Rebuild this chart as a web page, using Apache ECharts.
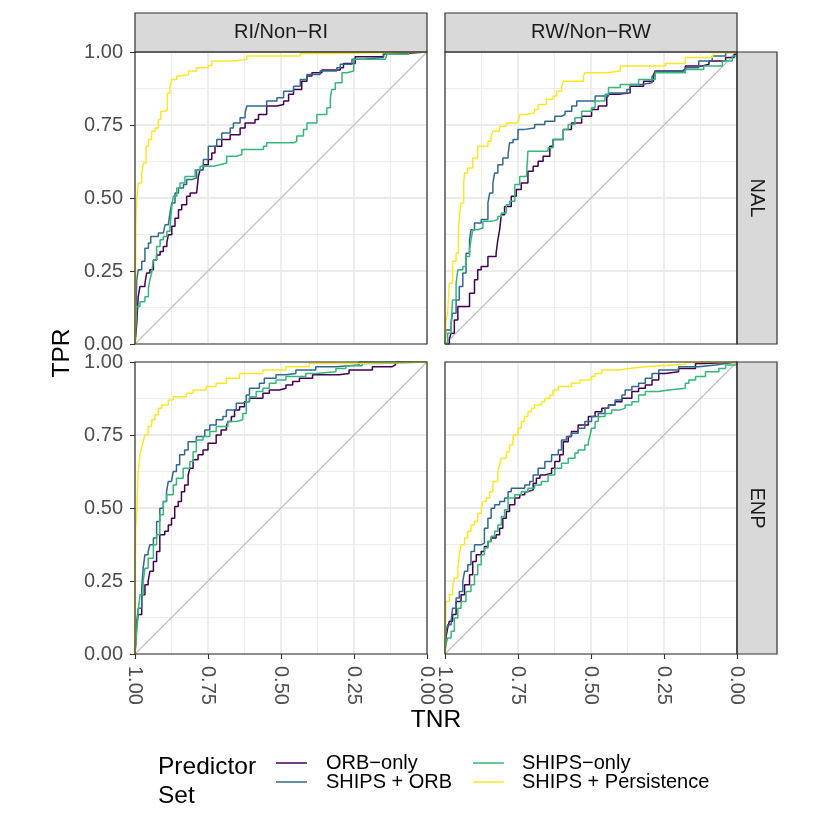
<!DOCTYPE html>
<html><head><meta charset="utf-8">
<script src="https://cdn.jsdelivr.net/npm/echarts@6/dist/echarts.min.js"></script>
<style>html,body{margin:0;padding:0;background:#fff}#c{width:830px;height:830px}</style>
</head><body><div id="c"></div>
<script>
// ---------- data ----------
const rowFacets = ['NAL', 'ENP'];
const colFacets = ['RI/Non\u2212RI', 'RW/Non\u2212RW'];
const predictorSets = ['ORB\u2212only', 'SHIPS + ORB', 'SHIPS\u2212only', 'SHIPS + Persistence'];
const setColors = ['#440154', '#31688E', '#35B779', '#FDE725'];
const tickValues = [0, 0.25, 0.5, 0.75, 1];
const tickLabels = ['0.00', '0.25', '0.50', '0.75', '1.00'];
const diagonal = [[1, 0], [0, 1]];

// [TNR, TPR] — NAL, RI/Non-RI
const nalRiOrb = [[1,0],[0.994,0.071],[0.989,0.162],[0.983,0.197],[0.966,0.208],[0.96,0.243],[0.949,0.254],[0.937,0.288],[0.926,0.305],[0.914,0.317],[0.903,0.334],[0.891,0.346],[0.886,0.374],[0.874,0.403],[0.863,0.431],[0.851,0.46],[0.84,0.477],[0.823,0.506],[0.811,0.517],[0.789,0.523],[0.783,0.574],[0.777,0.597],[0.766,0.614],[0.749,0.632],[0.737,0.654],[0.726,0.677],[0.703,0.7],[0.674,0.717],[0.64,0.74],[0.623,0.757],[0.589,0.769],[0.577,0.786],[0.549,0.815],[0.514,0.82],[0.491,0.832],[0.474,0.855],[0.457,0.872],[0.429,0.9],[0.411,0.918],[0.394,0.929],[0.36,0.938],[0.297,0.946],[0.286,0.961],[0.246,0.984],[0.149,0.995],[0.08,1],[0,1]];
const nalRiShipsOrb = [[1,0],[0.994,0.22],[0.989,0.254],[0.977,0.283],[0.966,0.328],[0.954,0.346],[0.946,0.368],[0.92,0.38],[0.903,0.386],[0.897,0.408],[0.886,0.414],[0.88,0.449],[0.874,0.483],[0.863,0.517],[0.851,0.534],[0.834,0.546],[0.823,0.563],[0.806,0.569],[0.789,0.597],[0.766,0.632],[0.749,0.677],[0.72,0.7],[0.703,0.723],[0.674,0.74],[0.663,0.757],[0.64,0.775],[0.623,0.792],[0.617,0.815],[0.549,0.832],[0.514,0.843],[0.491,0.866],[0.457,0.883],[0.434,0.906],[0.411,0.923],[0.366,0.935],[0.309,0.946],[0.297,0.958],[0.257,0.975],[0.217,0.981],[0.149,0.992],[0.069,1],[0,1]];
const nalRiShips = [[1,0],[0.994,0.128],[0.983,0.145],[0.966,0.162],[0.954,0.191],[0.949,0.22],[0.943,0.243],[0.937,0.288],[0.926,0.334],[0.914,0.357],[0.903,0.368],[0.891,0.386],[0.88,0.403],[0.874,0.471],[0.869,0.506],[0.857,0.534],[0.846,0.551],[0.829,0.574],[0.794,0.597],[0.777,0.609],[0.731,0.614],[0.709,0.62],[0.686,0.643],[0.651,0.649],[0.634,0.666],[0.56,0.677],[0.549,0.689],[0.457,0.694],[0.446,0.712],[0.423,0.735],[0.411,0.757],[0.377,0.786],[0.343,0.809],[0.331,0.843],[0.326,0.872],[0.314,0.895],[0.291,0.929],[0.274,0.935],[0.251,0.975],[0.143,0.981],[0.137,0.992],[0.063,1],[0,1]];
const nalRiPersist = [[1,0],[0.997,0.42],[0.994,0.494],[0.989,0.551],[0.977,0.586],[0.971,0.62],[0.962,0.677],[0.954,0.7],[0.943,0.729],[0.931,0.74],[0.92,0.769],[0.912,0.797],[0.897,0.803],[0.889,0.86],[0.88,0.883],[0.874,0.906],[0.857,0.918],[0.84,0.923],[0.817,0.935],[0.789,0.946],[0.749,0.954],[0.737,0.969],[0.663,0.975],[0.617,0.986],[0.434,0.995],[0.309,1],[0,1]];

// NAL, RW/Non-RW
const nalRwOrb = [[1,0],[0.985,0.019],[0.979,0.037],[0.968,0.082],[0.956,0.128],[0.928,0.128],[0.916,0.174],[0.899,0.22],[0.888,0.254],[0.876,0.265],[0.853,0.3],[0.825,0.311],[0.819,0.357],[0.813,0.391],[0.807,0.443],[0.796,0.471],[0.773,0.506],[0.756,0.529],[0.739,0.551],[0.716,0.592],[0.698,0.609],[0.681,0.626],[0.664,0.643],[0.641,0.677],[0.63,0.7],[0.595,0.735],[0.567,0.757],[0.532,0.78],[0.498,0.803],[0.475,0.815],[0.446,0.843],[0.44,0.855],[0.406,0.86],[0.366,0.883],[0.32,0.9],[0.286,0.923],[0.28,0.935],[0.188,0.94],[0.177,0.952],[0.119,0.958],[0.096,0.969],[0.039,0.981],[0.01,0.992],[0,1]];
const nalRwShipsOrb = [[1,0],[0.997,0.048],[0.979,0.071],[0.974,0.105],[0.962,0.151],[0.951,0.197],[0.939,0.243],[0.928,0.311],[0.916,0.357],[0.911,0.391],[0.899,0.414],[0.876,0.426],[0.853,0.483],[0.847,0.517],[0.836,0.551],[0.83,0.586],[0.819,0.614],[0.802,0.637],[0.784,0.649],[0.779,0.689],[0.767,0.7],[0.75,0.735],[0.727,0.74],[0.693,0.752],[0.658,0.763],[0.624,0.78],[0.601,0.786],[0.589,0.797],[0.566,0.815],[0.549,0.832],[0.486,0.849],[0.44,0.86],[0.377,0.872],[0.366,0.889],[0.326,0.895],[0.291,0.918],[0.28,0.935],[0.177,0.946],[0.131,0.969],[0.085,0.986],[0.039,0.998],[0,1]];
const nalRwShips = [[1,0],[0.991,0.037],[0.979,0.071],[0.974,0.151],[0.962,0.208],[0.956,0.254],[0.939,0.265],[0.928,0.3],[0.916,0.323],[0.911,0.357],[0.905,0.391],[0.888,0.397],[0.87,0.42],[0.842,0.426],[0.819,0.437],[0.807,0.449],[0.79,0.477],[0.779,0.489],[0.761,0.546],[0.744,0.574],[0.721,0.58],[0.716,0.66],[0.647,0.672],[0.63,0.7],[0.595,0.735],[0.578,0.752],[0.555,0.775],[0.532,0.797],[0.498,0.809],[0.486,0.832],[0.452,0.855],[0.44,0.878],[0.4,0.889],[0.337,0.906],[0.28,0.929],[0.177,0.94],[0.114,0.952],[0.05,0.969],[0.016,0.986],[0,1]];
const nalRwPersist = [[1,0],[0.997,0.077],[0.991,0.105],[0.985,0.208],[0.974,0.22],[0.974,0.283],[0.962,0.311],[0.954,0.391],[0.951,0.437],[0.945,0.483],[0.936,0.551],[0.933,0.586],[0.922,0.603],[0.905,0.637],[0.888,0.677],[0.853,0.694],[0.842,0.712],[0.836,0.729],[0.813,0.746],[0.79,0.757],[0.75,0.763],[0.744,0.786],[0.721,0.792],[0.693,0.803],[0.681,0.82],[0.653,0.838],[0.63,0.849],[0.618,0.866],[0.601,0.878],[0.595,0.9],[0.526,0.918],[0.521,0.929],[0.446,0.935],[0.4,0.952],[0.245,0.961],[0.177,0.963],[0.177,0.981],[0.085,0.986],[0.079,0.998],[0,1]];

// ENP, RI/Non-RI
const enpRiOrb = [[1,0],[0.994,0.1],[0.989,0.135],[0.977,0.203],[0.966,0.237],[0.955,0.249],[0.949,0.283],[0.937,0.317],[0.926,0.351],[0.915,0.408],[0.898,0.42],[0.886,0.442],[0.875,0.465],[0.864,0.505],[0.852,0.522],[0.841,0.556],[0.83,0.579],[0.818,0.613],[0.812,0.636],[0.801,0.665],[0.784,0.682],[0.767,0.699],[0.75,0.722],[0.722,0.75],[0.705,0.767],[0.687,0.779],[0.682,0.796],[0.67,0.813],[0.659,0.836],[0.642,0.847],[0.625,0.864],[0.608,0.876],[0.562,0.893],[0.54,0.904],[0.506,0.91],[0.483,0.921],[0.46,0.933],[0.437,0.944],[0.392,0.956],[0.301,0.961],[0.267,0.973],[0.187,0.984],[0.119,0.99],[0.108,1],[0,1]];
const enpRiShipsOrb = [[1,0],[0.994,0.112],[0.989,0.157],[0.977,0.226],[0.972,0.294],[0.966,0.34],[0.955,0.351],[0.949,0.374],[0.937,0.397],[0.926,0.454],[0.915,0.499],[0.903,0.522],[0.892,0.556],[0.886,0.591],[0.875,0.596],[0.869,0.625],[0.858,0.648],[0.847,0.682],[0.83,0.699],[0.818,0.727],[0.79,0.745],[0.761,0.767],[0.744,0.784],[0.722,0.802],[0.699,0.813],[0.687,0.836],[0.653,0.859],[0.631,0.864],[0.619,0.887],[0.608,0.91],[0.574,0.927],[0.557,0.944],[0.517,0.956],[0.483,0.961],[0.449,0.973],[0.381,0.984],[0.312,0.99],[0.233,1],[0,1]];
const enpRiShips = [[1,0],[0.994,0.078],[0.989,0.146],[0.983,0.203],[0.972,0.249],[0.966,0.294],[0.955,0.328],[0.937,0.374],[0.926,0.408],[0.915,0.477],[0.903,0.522],[0.892,0.545],[0.869,0.579],[0.858,0.602],[0.835,0.636],[0.812,0.659],[0.801,0.693],[0.79,0.733],[0.767,0.745],[0.744,0.762],[0.722,0.779],[0.682,0.796],[0.653,0.802],[0.631,0.824],[0.619,0.864],[0.608,0.881],[0.585,0.899],[0.562,0.91],[0.54,0.927],[0.517,0.938],[0.483,0.95],[0.415,0.961],[0.381,0.967],[0.312,0.978],[0.278,0.987],[0.222,0.995],[0.165,1],[0,1]];
const enpRiPersist = [[1,0],[0.998,0.431],[0.994,0.477],[0.992,0.545],[0.989,0.625],[0.983,0.682],[0.977,0.71],[0.972,0.727],[0.966,0.75],[0.955,0.779],[0.943,0.802],[0.932,0.819],[0.92,0.842],[0.909,0.853],[0.886,0.87],[0.869,0.881],[0.824,0.893],[0.801,0.904],[0.756,0.916],[0.722,0.927],[0.687,0.944],[0.642,0.961],[0.562,0.973],[0.483,0.984],[0.403,0.995],[0.278,1],[0,1]];

// ENP, RW/Non-RW
const enpRwOrb = [[1,0],[0.997,0.055],[0.991,0.089],[0.985,0.112],[0.974,0.135],[0.962,0.18],[0.945,0.203],[0.933,0.237],[0.916,0.271],[0.905,0.317],[0.893,0.34],[0.876,0.351],[0.865,0.368],[0.853,0.385],[0.842,0.397],[0.825,0.408],[0.813,0.431],[0.802,0.465],[0.79,0.488],[0.779,0.511],[0.761,0.534],[0.744,0.545],[0.727,0.556],[0.716,0.562],[0.698,0.585],[0.687,0.602],[0.675,0.613],[0.658,0.619],[0.635,0.636],[0.624,0.659],[0.607,0.682],[0.595,0.727],[0.578,0.745],[0.567,0.762],[0.544,0.784],[0.509,0.813],[0.486,0.83],[0.463,0.842],[0.44,0.853],[0.417,0.864],[0.394,0.876],[0.36,0.899],[0.337,0.91],[0.314,0.921],[0.291,0.938],[0.268,0.961],[0.245,0.967],[0.2,0.978],[0.142,0.995],[0.108,1],[0,1]];
const enpRwShipsOrb = [[1,0],[0.997,0.078],[0.991,0.1],[0.979,0.112],[0.974,0.157],[0.962,0.192],[0.951,0.214],[0.939,0.249],[0.933,0.283],[0.922,0.306],[0.911,0.351],[0.899,0.374],[0.876,0.38],[0.865,0.431],[0.853,0.465],[0.842,0.499],[0.83,0.511],[0.813,0.522],[0.796,0.534],[0.784,0.556],[0.773,0.568],[0.727,0.579],[0.71,0.591],[0.698,0.613],[0.681,0.636],[0.658,0.659],[0.635,0.682],[0.612,0.699],[0.601,0.733],[0.584,0.745],[0.567,0.756],[0.544,0.773],[0.521,0.796],[0.498,0.813],[0.475,0.824],[0.452,0.842],[0.44,0.853],[0.417,0.87],[0.394,0.887],[0.383,0.904],[0.36,0.916],[0.337,0.927],[0.314,0.944],[0.291,0.961],[0.268,0.973],[0.2,0.984],[0.131,0.99],[0.073,0.995],[0.039,1],[0,1]];
const enpRwShips = [[1,0],[0.997,0.032],[0.991,0.055],[0.979,0.078],[0.968,0.123],[0.956,0.157],[0.945,0.18],[0.928,0.214],[0.911,0.237],[0.899,0.271],[0.888,0.306],[0.876,0.34],[0.865,0.363],[0.853,0.385],[0.842,0.403],[0.83,0.42],[0.819,0.442],[0.807,0.471],[0.796,0.494],[0.784,0.534],[0.761,0.545],[0.739,0.556],[0.716,0.568],[0.693,0.579],[0.67,0.591],[0.647,0.613],[0.624,0.636],[0.601,0.653],[0.578,0.67],[0.555,0.688],[0.544,0.699],[0.521,0.716],[0.509,0.727],[0.503,0.75],[0.498,0.773],[0.486,0.796],[0.475,0.813],[0.452,0.824],[0.429,0.836],[0.4,0.842],[0.383,0.853],[0.36,0.864],[0.337,0.887],[0.314,0.899],[0.268,0.904],[0.234,0.91],[0.177,0.927],[0.165,0.938],[0.142,0.95],[0.108,0.967],[0.062,0.978],[0.039,0.99],[0,1]];
const enpRwPersist = [[1,0],[0.997,0.18],[0.985,0.203],[0.974,0.226],[0.968,0.26],[0.956,0.294],[0.951,0.34],[0.945,0.374],[0.933,0.397],[0.922,0.42],[0.911,0.442],[0.899,0.454],[0.888,0.482],[0.876,0.499],[0.87,0.522],[0.859,0.534],[0.847,0.556],[0.836,0.591],[0.819,0.625],[0.813,0.648],[0.807,0.67],[0.79,0.693],[0.779,0.716],[0.767,0.75],[0.75,0.773],[0.739,0.796],[0.727,0.813],[0.716,0.83],[0.704,0.842],[0.693,0.853],[0.67,0.864],[0.658,0.876],[0.641,0.887],[0.63,0.904],[0.612,0.916],[0.567,0.927],[0.538,0.938],[0.498,0.95],[0.486,0.961],[0.463,0.973],[0.406,0.978],[0.372,0.984],[0.314,0.99],[0.222,0.992],[0.177,1],[0,1]];

const panelCurves = [
  [nalRiOrb, nalRiShipsOrb, nalRiShips, nalRiPersist],
  [nalRwOrb, nalRwShipsOrb, nalRwShips, nalRwPersist],
  [enpRiOrb, enpRiShipsOrb, enpRiShips, enpRiPersist],
  [enpRwOrb, enpRwShipsOrb, enpRwShips, enpRwPersist]
];

// ---------- layout ----------
const FONT = '"Liberation Sans", Arial, Helvetica, sans-serif';
const colLeft = [135, 445];
const rowTop = [52, 362];
const PW = 292, PH = 292;
const stripH = 39, stripW = 40;
const SMALL = 20, BIG = 24.5;

const grids = [], xAxes = [], yAxes = [], series = [], graphics = [];
const fmt = v => { const i = tickValues.indexOf(Math.round(v * 100) / 100); return i >= 0 ? tickLabels[i] : ''; };

for (let r = 0; r < 2; r++) {
  for (let c = 0; c < 2; c++) {
    const gi = r * 2 + c;
    grids.push({ left: colLeft[c], top: rowTop[r], width: PW, height: PH, show: false });
    const isBottom = r === 1, isLeft = c === 0;
    xAxes.push({
      gridIndex: gi, type: 'value', min: 0, max: 1, interval: 0.25, inverse: true,
      axisLine: { show: false, onZero: false },
      axisTick: { show: isBottom, length: 5, lineStyle: { color: '#333333', width: 1.1 } },
      axisLabel: { show: isBottom, rotate: -90, margin: 12, fontSize: SMALL, color: '#4D4D4D', fontFamily: FONT, formatter: fmt },
      splitLine: { show: true, lineStyle: { color: '#EBEBEB', width: 1.8 } },
      minorTick: { show: false, splitNumber: 2 },
      minorSplitLine: { show: true, lineStyle: { color: '#EBEBEB', width: 0.9 } }
    });
    yAxes.push({
      gridIndex: gi, type: 'value', min: 0, max: 1, interval: 0.25,
      axisLine: { show: false, onZero: false },
      axisTick: { show: isLeft, length: 5, lineStyle: { color: '#333333', width: 1.1 } },
      axisLabel: { show: isLeft, margin: 12, fontSize: SMALL, color: '#4D4D4D', fontFamily: FONT, formatter: fmt },
      splitLine: { show: true, lineStyle: { color: '#EBEBEB', width: 1.8 } },
      minorTick: { show: false, splitNumber: 2 },
      minorSplitLine: { show: true, lineStyle: { color: '#EBEBEB', width: 0.9 } }
    });
    series.push({
      type: 'line', xAxisIndex: gi, yAxisIndex: gi, data: diagonal, symbol: 'none', silent: true,
      lineStyle: { color: '#BDBDBD', width: 1.1 }, z: 2
    });
    panelCurves[gi].forEach((d, k) => {
      series.push({
        name: predictorSets[k], type: 'line', xAxisIndex: gi, yAxisIndex: gi, data: d,
        symbol: 'none', step: 'end', color: setColors[k],
        lineStyle: { color: setColors[k], width: 1.5 }, z: 3 + k
      });
    });
    graphics.push({ type: 'rect', shape: { x: colLeft[c], y: rowTop[r], width: PW, height: PH },
      style: { fill: 'none', stroke: '#333333', lineWidth: 1.2 }, z: 100, silent: true });
  }
}

// column strips
colFacets.forEach((lab, c) => {
  graphics.push({ type: 'rect', shape: { x: colLeft[c], y: rowTop[0] - stripH, width: PW, height: stripH },
    style: { fill: '#D9D9D9', stroke: '#333333', lineWidth: 1.2 }, z: 90 });
  graphics.push({ type: 'text', x: colLeft[c] + PW / 2, y: rowTop[0] - stripH / 2,
    style: { text: lab, fill: '#1A1A1A', font: SMALL + 'px ' + FONT, textAlign: 'center', textVerticalAlign: 'middle' }, z: 101 });
});
// row strips
rowFacets.forEach((lab, r) => {
  graphics.push({ type: 'rect', shape: { x: colLeft[1] + PW, y: rowTop[r], width: stripW, height: PH },
    style: { fill: '#D9D9D9', stroke: '#333333', lineWidth: 1.2 }, z: 90 });
  graphics.push({ type: 'text', x: colLeft[1] + PW + stripW / 2, y: rowTop[r] + PH / 2, rotation: -Math.PI / 2,
    style: { text: lab, fill: '#1A1A1A', font: SMALL + 'px ' + FONT, textAlign: 'center', textVerticalAlign: 'middle' }, z: 101 });
});
// axis titles
graphics.push({ type: 'text', x: 436, y: 720,
  style: { text: 'TNR', fill: '#000000', font: BIG + 'px ' + FONT, textAlign: 'center', textVerticalAlign: 'middle' }, z: 101 });
graphics.push({ type: 'text', x: 62, y: 353, rotation: Math.PI / 2,
  style: { text: 'TPR', fill: '#000000', font: BIG + 'px ' + FONT, textAlign: 'center', textVerticalAlign: 'middle' }, z: 101 });

// legend
graphics.push({ type: 'text', x: 158, y: 767,
  style: { text: 'Predictor', fill: '#000000', font: BIG + 'px ' + FONT, textAlign: 'left', textVerticalAlign: 'middle' }, z: 101 });
graphics.push({ type: 'text', x: 158, y: 796,
  style: { text: 'Set', fill: '#000000', font: BIG + 'px ' + FONT, textAlign: 'left', textVerticalAlign: 'middle' }, z: 101 });
const legKeyX = [276, 473], legTextX = [326, 522], legY = [763, 782];
predictorSets.forEach((name, k) => {
  const col = Math.floor(k / 2), row = k % 2;
  graphics.push({ type: 'line', shape: { x1: legKeyX[col], y1: legY[row], x2: legKeyX[col] + 31, y2: legY[row] },
    style: { stroke: setColors[k], lineWidth: 1.5 }, z: 101 });
  graphics.push({ type: 'text', x: legTextX[col], y: legY[row],
    style: { text: name, fill: '#000000', font: SMALL + 'px ' + FONT, textAlign: 'left', textVerticalAlign: 'middle' }, z: 101 });
});

const chart = echarts.init(document.getElementById('c'), null, { renderer: 'canvas' });
chart.setOption({
  animation: false,
  backgroundColor: '#FFFFFF',
  grid: grids, xAxis: xAxes, yAxis: yAxes, series: series, graphic: graphics
});
</script></body></html>
